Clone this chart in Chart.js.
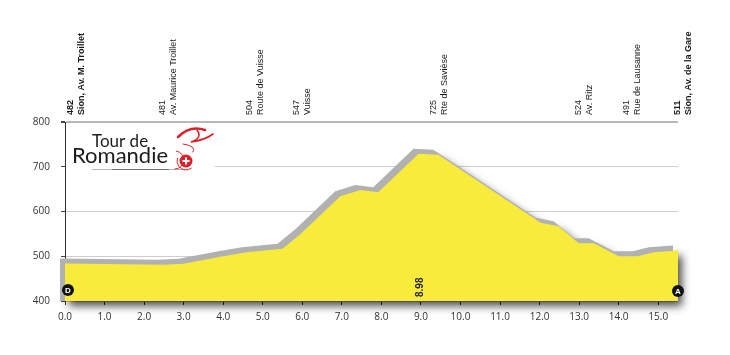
<!DOCTYPE html>
<html>
<head>
<meta charset="utf-8">
<script src="https://cdn.jsdelivr.net/npm/chart.js@4.4.1/dist/chart.umd.min.js"></script>
<style>
  html, body { margin: 0; padding: 0; background: #fff; }
  #wrap { width: 730px; height: 355px; }
</style>
</head>
<body>
<div id="wrap"><canvas id="profileChart" width="730" height="355"></canvas></div>
<script>
// profile: distance (km) and altitude (m)
const distanceKm = [0, 2.5, 3.0, 4.0, 4.6, 5.5, 5.95, 6.96, 7.47, 7.92, 8.94, 9.44, 12.03, 12.48, 12.99, 13.37, 14.0, 14.48, 14.89, 15.5];
const altitudeM = [484, 481, 483, 500, 509, 517, 549, 634, 648, 643, 729, 727, 575, 567, 529, 529, 500, 500, 509, 513];

const kmTicks = [0, 1, 2, 3, 4, 5, 6, 7, 8, 9, 10, 11, 12, 13, 14, 15];
const altTicks = [400, 500, 600, 700, 800];

// places along the route
const placeKm = [0, 2.33, 4.53, 5.71, 9.17, 12.84, 14.07, 15.35];
const placeAlt = ["482", "481", "504", "547", "725", "524", "491", "511"];
const placeName = ["Sion, Av. M. Troillet", "Av. Maurice Troillet", "Route de Vuisse", "Vuisse", "Rte de Savièse", "Av. Ritz", "Rue de Lausanne", "Sion, Av. de la Gare"];
const placeBold = [true, false, false, false, false, false, false, true];

const summitKm = 8.98;
const startLabel = "D";
const finishLabel = "A";

const YELLOW = "#f8eb3b";
const LABEL_FONT = "'Liberation Sans Narrow', 'Liberation Sans', sans-serif";

// gray 3D band + drop shadow behind the yellow profile
const profileBackdrop = {
  id: "profileBackdrop",
  beforeDatasetsDraw(chart) {
    const pts = chart.getDatasetMeta(0).data;
    const bottom = chart.chartArea.bottom;
    const ctx = chart.ctx;
    const trace = (dx, dy) => {
      ctx.beginPath();
      ctx.moveTo(pts[0].x + dx, bottom);
      pts.forEach((p) => ctx.lineTo(p.x + dx, p.y + dy));
      ctx.lineTo(pts[pts.length - 1].x + dx, bottom);
      ctx.closePath();
    };
    ctx.save();
    ctx.shadowColor = "rgba(0,0,0,0.7)";
    ctx.shadowBlur = 9;
    ctx.shadowOffsetX = 4;
    ctx.shadowOffsetY = 5;
    ctx.fillStyle = YELLOW;
    trace(0, 0);
    ctx.fill();
    ctx.restore();
    ctx.save();
    ctx.fillStyle = "#b1b1b1";
    trace(-5, -5);
    ctx.fill();
    ctx.restore();
  },
};

const annotations = {
  id: "annotations",
  afterDraw(chart) {
    const ctx = chart.ctx;
    const xs = chart.scales.x;
    const { top, bottom, left } = chart.chartArea;

    // vertical place labels above the chart
    placeKm.forEach((km, i) => {
      const x = xs.getPixelForValue(km);
      ctx.save();
      ctx.translate(x, top - 7);
      ctx.rotate(-Math.PI / 2);
      ctx.textAlign = "left";
      ctx.textBaseline = "top";
      ctx.fillStyle = "#1a1a1a";
      ctx.font = (placeBold[i] ? "bold " : "") + "9px " + LABEL_FONT;
      ctx.fillText(placeAlt[i], 0, 1);
      ctx.fillText(placeName[i], 0, 12);
      ctx.restore();
    });

    // summit distance
    ctx.save();
    ctx.translate(xs.getPixelForValue(summitKm), bottom - 4);
    ctx.rotate(-Math.PI / 2);
    ctx.textAlign = "left";
    ctx.textBaseline = "middle";
    ctx.fillStyle = "#222";
    ctx.font = "bold 10px " + LABEL_FONT;
    ctx.fillText(summitKm.toFixed(2), 0, 0);
    ctx.restore();

    // start / finish markers
    const marker = (x, y, letter) => {
      ctx.save();
      ctx.beginPath();
      ctx.arc(x, y, 6, 0, Math.PI * 2);
      ctx.fillStyle = "#111";
      ctx.fill();
      ctx.fillStyle = "#fff";
      ctx.font = "bold 8px 'Liberation Sans', sans-serif";
      ctx.textAlign = "center";
      ctx.textBaseline = "middle";
      ctx.fillText(letter, x, y + 0.5);
      ctx.restore();
    };
    marker(xs.getPixelForValue(distanceKm[0]) + 3, bottom - 11, startLabel);
    marker(xs.getPixelForValue(distanceKm[distanceKm.length - 1]), bottom - 10, finishLabel);

    // logo
    const lx = left, ly = top;
    ctx.save();
    ctx.fillStyle = "#fff";
    ctx.fillRect(lx + 1, ly + 3, 149, 47);
    ctx.fillStyle = "#1c1c1c";
    ctx.textBaseline = "alphabetic";
    ctx.textAlign = "left";
    ctx.font = "17px Lato, sans-serif";
    ctx.fillText("Tour de", lx + 27, ly + 25);
    ctx.font = "22px Lato, sans-serif";
    ctx.fillText("Romandie", lx + 7, ly + 41);
    ctx.strokeStyle = "#b5b5b5";
    ctx.lineWidth = 1;
    ctx.beginPath();
    ctx.moveTo(lx + 27, ly + 47.5);
    ctx.lineTo(lx + 120, ly + 47.5);
    ctx.stroke();
    ctx.strokeStyle = "#6f6f6f";
    ctx.beginPath();
    ctx.moveTo(lx + 47, ly + 47.5);
    ctx.lineTo(lx + 104, ly + 47.5);
    ctx.stroke();
    // red rider swoosh
    const red = "#d8232a";
    ctx.strokeStyle = red;
    ctx.lineCap = "round";
    ctx.lineWidth = 2.5;
    ctx.beginPath();
    ctx.moveTo(lx + 113, ly + 15);
    ctx.quadraticCurveTo(lx + 125, ly + 3, lx + 140, ly + 8);
    ctx.stroke();
    ctx.lineWidth = 1.6;
    ctx.beginPath();
    ctx.moveTo(lx + 132, ly + 8);
    ctx.quadraticCurveTo(lx + 138, ly + 16, lx + 126, ly + 20);
    ctx.quadraticCurveTo(lx + 140, ly + 18, lx + 148, ly + 12);
    ctx.stroke();
    ctx.lineWidth = 1;
    ctx.beginPath();
    ctx.moveTo(lx + 118, ly + 22);
    ctx.quadraticCurveTo(lx + 132, ly + 24, lx + 128, ly + 30);
    ctx.stroke();
    ctx.beginPath();
    ctx.arc(lx + 110, ly + 38, 9, -0.45 * Math.PI, 0.5 * Math.PI);
    ctx.stroke();
    ctx.beginPath();
    ctx.arc(lx + 121, ly + 39, 9, 0.3 * Math.PI, 1.1 * Math.PI);
    ctx.stroke();
    ctx.beginPath();
    ctx.arc(lx + 121, ly + 39, 6.5, 0, Math.PI * 2);
    ctx.fillStyle = red;
    ctx.fill();
    ctx.fillStyle = "#fff";
    ctx.fillRect(lx + 117.5, ly + 38, 7, 2);
    ctx.fillRect(lx + 120, ly + 35.5, 2, 7);
    ctx.restore();
  },
};

const ctx = document.getElementById("profileChart").getContext("2d");
new Chart(ctx, {
  type: "line",
  data: {
    datasets: [
      {
        data: distanceKm.map((km, i) => ({ x: km, y: altitudeM[i] })),
        fill: "start",
        backgroundColor: YELLOW,
        borderColor: YELLOW,
        borderWidth: 0,
        pointRadius: 0,
        tension: 0,
      },
    ],
  },
  options: {
    responsive: false,
    animation: false,
    events: [],
    layout: { padding: { top: 122, right: 52, left: 0, bottom: 0 } },
    plugins: { legend: { display: false }, tooltip: { enabled: false } },
    scales: {
      x: {
        type: "linear",
        min: 0,
        max: 15.5,
        afterBuildTicks: (s) => { s.ticks = kmTicks.map((v) => ({ value: v })); },
        afterFit: (s) => { s.height = 54; },
        ticks: {
          callback: (v) => Number(v).toFixed(1),
          color: "#333",
          font: { size: 10, family: "'Open Sans', sans-serif" },
          padding: 6,
          maxRotation: 0,
          autoSkip: false,
        },
        grid: { drawOnChartArea: false, drawTicks: true, tickLength: 4, color: "#333" },
        border: { display: false },
      },
      y: {
        min: 400,
        max: 800,
        afterBuildTicks: (s) => { s.ticks = altTicks.map((v) => ({ value: v })); },
        afterFit: (s) => { s.width = 65; },
        ticks: {
          color: "#333",
          font: { size: 10, family: "'Open Sans', sans-serif" },
          padding: 11,
        },
        grid: {
          color: (c) => (c.tick && c.tick.value === 800 ? "#b8b8b8" : "#cdcdcd"),
          lineWidth: (c) => (c.tick && c.tick.value === 800 ? 2 : 1),
          tickLength: 4,
          tickColor: "#444",
        },
        border: { display: true, color: "#333", width: 1 },
      },
    },
  },
  plugins: [profileBackdrop, annotations],
});
</script>
</body>
</html>
